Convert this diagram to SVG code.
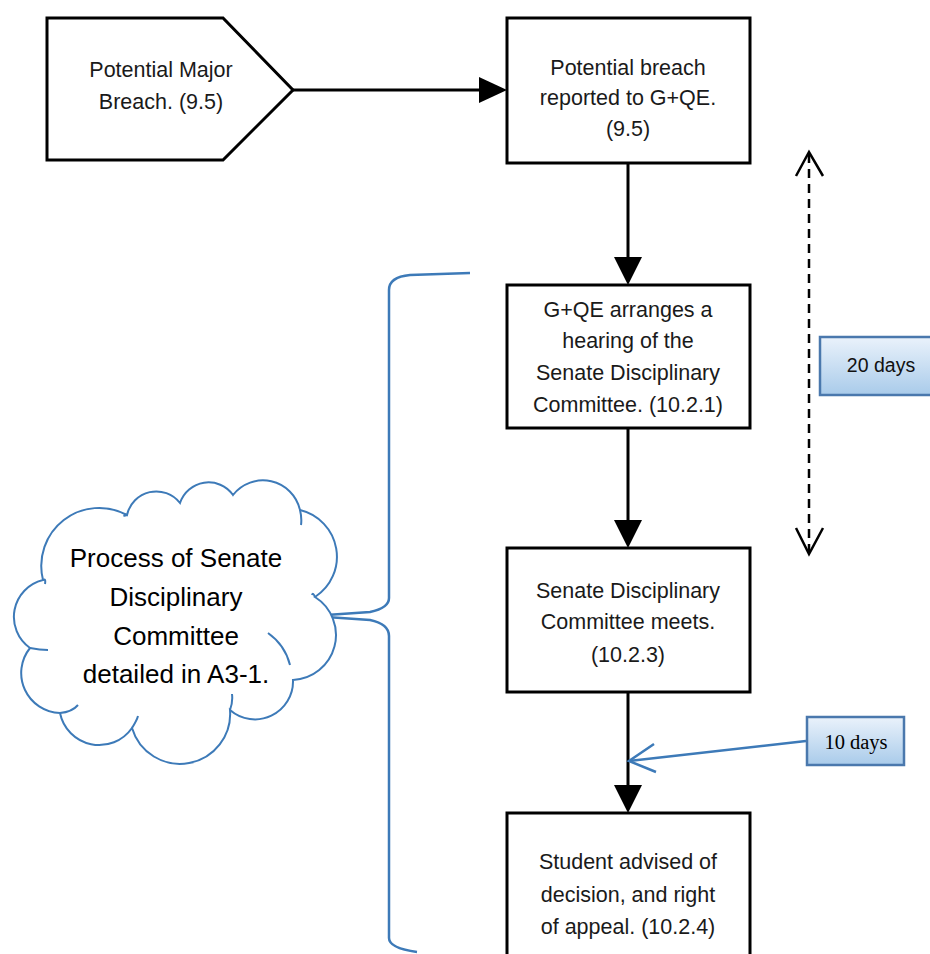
<svg xmlns="http://www.w3.org/2000/svg" width="930" height="954" viewBox="0 0 930 954">
<defs>
<style>
.box{fill:#fff;stroke:#000;stroke-width:3}
.t{font-family:"Liberation Sans",Arial,sans-serif;font-size:21.5px;fill:#1a1a1a;text-anchor:middle}
.ct{font-family:"Liberation Sans",Arial,sans-serif;font-size:26px;fill:#000;text-anchor:middle}
.tag20{font-family:"Liberation Sans",Arial,sans-serif;font-size:19.5px;fill:#111;text-anchor:middle}
.serif{font-family:"Liberation Serif","Times New Roman",serif;font-size:20.5px;fill:#000;text-anchor:middle}
.conn{stroke:#000;stroke-width:3;fill:none}
.blue{stroke:#3d7ab8;stroke-width:2.5;fill:none}
.tag{fill:url(#g);stroke:#4a78ad;stroke-width:2.5}
</style>
<linearGradient id="g" x1="0" y1="0" x2="0" y2="1">
<stop offset="0" stop-color="#eaf2fb"/>
<stop offset="1" stop-color="#a9cbea"/>
</linearGradient>
</defs>

<g id="connectors">
<line class="conn" x1="293" y1="90" x2="480" y2="90"/>
<path d="M479,77 L507,90 L479,103 Z" fill="#000"/>
<line class="conn" x1="628" y1="163" x2="628" y2="258"/>
<path d="M614,257 L628,285 L642,257 Z" fill="#000"/>
<line class="conn" x1="628" y1="428" x2="628" y2="521"/>
<path d="M614,520 L628,548 L642,520 Z" fill="#000"/>
<line class="conn" x1="628" y1="692" x2="628" y2="786"/>
<path d="M614,785 L628,813 L642,785 Z" fill="#000"/>
<line x1="809" y1="154" x2="809" y2="552" stroke="#000" stroke-width="2.5" stroke-dasharray="9,6"/>
<polyline points="796,176 809,152 823,176" fill="none" stroke="#000" stroke-width="2.5"/>
<polyline points="796,528 809,554 823,528" fill="none" stroke="#000" stroke-width="2.5"/>
<line class="blue" x1="806" y1="741" x2="629" y2="761"/>
<polyline class="blue" points="654,744 629,761 656,772"/>
<path class="blue" d="M470,273 L410,275 Q389,277 389,290 L389,598 Q389,608 370,612 L312,616 M312,616 L370,620 Q389,624 389,636 L389,938 Q389,948 417,952"/>
</g>

<g id="start">
<path class="box" d="M47,18 L223,18 L293,90 L223,160 L47,160 Z"/>
<text class="t" x="161" y="77">Potential Major</text>
<text class="t" x="161" y="109">Breach. (9.5)</text>
</g>

<g id="reported">
<rect class="box" x="507" y="18" width="243" height="145"/>
<text class="t" x="628" y="75">Potential breach</text>
<text class="t" x="628" y="105">reported to G+QE.</text>
<text class="t" x="628" y="136">(9.5)</text>
</g>

<g id="hearing">
<rect class="box" x="507" y="285" width="243" height="143"/>
<text class="t" x="628" y="317">G+QE arranges a</text>
<text class="t" x="628" y="348">hearing of the</text>
<text class="t" x="628" y="380">Senate Disciplinary</text>
<text class="t" x="628" y="412">Committee. (10.2.1)</text>
</g>

<g id="meets">
<rect class="box" x="507" y="548" width="243" height="144"/>
<text class="t" x="628" y="598">Senate Disciplinary</text>
<text class="t" x="628" y="629">Committee meets.</text>
<text class="t" x="628" y="662">(10.2.3)</text>
</g>

<g id="advised">
<rect class="box" x="507" y="813" width="243" height="150"/>
<text class="t" x="628" y="869">Student advised of</text>
<text class="t" x="628" y="902">decision, and right</text>
<text class="t" x="628" y="934">of appeal. (10.2.4)</text>
</g>

<g id="days20">
<rect class="tag" x="820" y="337" width="118" height="58"/>
<text class="tag20" x="881" y="372">20 days</text>
</g>

<g id="days10">
<rect class="tag" x="807" y="717" width="97" height="48"/>
<text class="serif" x="856" y="749">10 days</text>
</g>

<g id="cloud">
<path d="M43,580 A58,58 0 0 1 127,515 A30,30 0 0 1 180,503 A30,30 0 0 1 233,495 A38,38 0 0 1 300,510 A48,48 0 0 1 315,597 A45,45 0 0 1 293,680 A38,38 0 0 1 230,710 A50.1,50.1 0 0 1 132,728 A40,40 0 0 1 60,713 A40,40 0 0 1 30,648 A38,38 0 0 1 43,580 Z" fill="#fff" stroke="#3d7ab8" stroke-width="2"/>
<path d="M127,515 Q122,517 126,514 M43,580 Q46,578 45,584 M300,510 Q302,518 301,525 M315,597 Q313,592 312,595 M268,633 Q285,645 290,665 M132,728 Q137,720 138,716 M230,710 Q233,702 232,694 M30,648 Q40,650 48,650 M60,713 Q72,712 78,705" fill="none" stroke="#3d7ab8" stroke-width="2"/>
<text class="ct" x="176" y="567">Process of Senate</text>
<text class="ct" x="176" y="606">Disciplinary</text>
<text class="ct" x="176" y="645">Committee</text>
<text class="ct" x="176" y="683">detailed in A3-1.</text>
</g>
</svg>
